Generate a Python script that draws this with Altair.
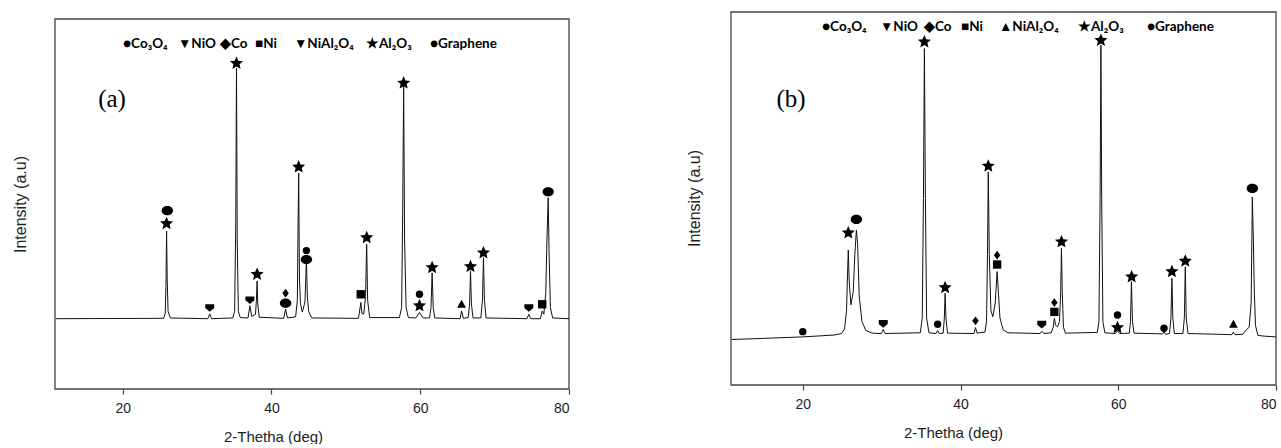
import altair as alt
import pandas as pd

X_MIN, X_MAX = 10.9, 80.0

# ---------------- panel (a): XRD trace (2-theta, relative intensity) ----------------
a_x = [11.0, 25.5, 25.72, 25.82, 25.9, 25.98, 26.1, 26.4,
       31.45, 31.7, 31.95,
       34.8, 35.05, 35.2, 35.3, 35.4, 35.55, 35.8,
       36.85, 37.1, 37.35, 37.85, 37.98, 38.07, 38.16, 38.35,
       41.65, 41.9, 42.15,
       43.25, 43.48, 43.58, 43.66, 43.76, 43.9, 44.15, 44.5, 44.62, 44.7, 44.82, 45.0, 45.4,
       51.7, 51.92, 52.03, 52.15, 52.4, 52.65, 52.8, 52.93, 53.2,
       57.2, 57.5, 57.65, 57.77, 57.9, 58.1, 58.4,
       59.4, 59.9, 60.4,
       61.25, 61.45, 61.6, 61.75, 61.95,
       65.35, 65.56, 65.8,
       66.45, 66.64, 66.76, 66.88, 67.1,
       68.15, 68.37, 68.5, 68.63, 68.85,
       74.35, 74.6, 74.85,
       76.15, 76.4, 76.62, 76.88, 77.03, 77.2, 77.33, 77.5, 77.8, 80.0]
a_y = [19.0, 19.1, 20.5, 28.0, 42.7, 30.0, 21.0, 19.2,
       19.0, 20.3, 19.0,
       19.2, 21.0, 45.0, 86.7, 40.0, 21.0, 19.3,
       19.2, 22.5, 19.6, 20.2, 24.0, 29.2, 23.0, 19.4,
       19.1, 21.6, 19.2,
       19.5, 24.0, 45.0, 58.4, 30.0, 23.0, 20.8, 23.5, 30.0, 35.5, 25.0, 21.0, 19.2,
       19.1, 22.0, 23.4, 20.5, 20.2, 25.0, 39.1, 24.0, 19.3,
       19.3, 22.0, 50.0, 81.8, 40.0, 22.0, 19.3,
       19.2, 20.7, 19.2,
       19.2, 22.0, 31.4, 22.0, 19.2,
       19.0, 21.1, 19.1,
       19.3, 23.0, 31.9, 23.0, 19.2,
       19.2, 24.0, 35.5, 24.0, 19.2,
       19.0, 20.2, 19.0,
       19.0, 21.1, 20.2, 26.0, 40.0, 51.7, 36.0, 22.0, 19.2, 19.0]

# phase markers of panel (a)
a_mx = [25.9, 26.0, 31.7, 35.3, 37.1, 38.07, 41.9, 41.9, 43.66, 44.7, 44.7, 52.0, 52.8,
        57.77, 59.9, 59.9, 61.6, 65.56, 66.76, 68.5, 74.6, 76.4, 77.2]
a_my = [44.7, 48.2, 22.0, 88.0, 24.1, 31.0, 23.2, 25.9, 60.0, 35.0, 37.4, 25.6, 40.9,
        82.7, 22.5, 25.6, 32.8, 22.9, 33.1, 36.8, 22.0, 22.9, 53.3]
a_mk = ["Al2O3", "Graphene", "NiO", "Al2O3", "NiO", "Al2O3", "Graphene", "Co", "Al2O3", "Graphene", "Co3O4",
        "Ni", "Al2O3", "Al2O3", "Al2O3", "Co3O4", "Al2O3", "NiAl2O4", "Al2O3", "Al2O3", "NiO", "Ni", "Graphene"]

# ---------------- panel (b) ----------------
b_x = [11.0, 15.0, 20.0, 24.0, 24.9, 25.3, 25.55, 25.68, 25.77, 25.88, 26.1, 26.4, 26.6, 26.8, 26.95, 27.15, 27.5, 28.0, 28.8,
       29.95, 30.2, 30.45,
       34.9, 35.15, 35.3, 35.42, 35.55, 35.7, 36.0,
       36.9, 37.1, 37.3, 37.8, 37.95, 38.05, 38.15, 38.35,
       41.7, 41.9, 42.1,
       43.1, 43.3, 43.42, 43.52, 43.65, 43.85, 44.1, 44.4, 44.64, 44.8, 45.0, 45.4, 46.0,
       50.1, 50.32, 50.55,
       51.5, 51.75, 51.9, 52.05, 52.3, 52.55, 52.7, 52.8, 52.9, 53.05, 53.3,
       57.35, 57.55, 57.7, 57.8, 57.9, 58.05, 58.3,
       59.6, 59.9, 60.2,
       61.4, 61.55, 61.67, 61.8, 62.0,
       65.6, 65.8, 66.0,
       66.5, 66.68, 66.8, 66.92, 67.1,
       68.2, 68.38, 68.5, 68.62, 68.85,
       74.4, 74.6, 74.8,
       75.8, 76.2, 76.6, 76.85, 77.0, 77.12, 77.25, 77.4, 77.7, 78.5, 80.0]
b_y = [12.2, 12.5, 12.9, 13.4, 13.8, 15.0, 20.0, 30.0, 36.2, 28.0, 21.5, 25.0, 35.0, 41.5, 38.0, 24.0, 17.0, 14.6, 13.9,
       13.8, 14.9, 13.8,
       14.0, 18.0, 50.0, 90.2, 50.0, 18.0, 14.0,
       13.8, 14.6, 13.8, 13.9, 18.0, 24.6, 18.0, 13.9,
       13.8, 15.4, 13.9,
       14.2, 17.0, 35.0, 57.1, 35.0, 20.0, 18.3, 22.0, 30.4, 25.0, 18.0, 14.8, 14.0,
       13.8, 14.4, 13.8,
       14.0, 15.5, 17.9, 16.0, 15.6, 17.0, 25.0, 36.6, 25.0, 15.5, 13.9,
       14.1, 17.0, 50.0, 91.1, 50.0, 17.0, 14.0,
       13.8, 14.4, 13.8,
       13.9, 17.0, 27.7, 17.0, 13.9,
       13.7, 14.3, 13.6,
       13.8, 18.0, 28.6, 18.0, 13.8,
       13.8, 18.0, 31.7, 18.0, 13.8,
       13.5, 14.2, 13.5,
       13.6, 14.7, 15.5, 22.0, 50.4, 40.0, 25.0, 16.0, 13.3, 13.1, 12.9]

b_mx = [20.0, 25.77, 26.8, 30.2, 35.42, 37.1, 38.05, 41.9, 43.52, 44.64, 44.64, 50.3, 51.9, 51.9, 52.8,
        57.8, 59.9, 59.9, 61.7, 65.8, 66.8, 68.5, 74.6, 77.0]
b_my = [14.3, 40.8, 44.4, 16.5, 92.0, 16.3, 26.1, 17.2, 58.7, 32.3, 34.8, 16.3, 19.6, 22.1, 38.4,
        92.4, 15.4, 18.75, 29.0, 15.2, 30.4, 33.2, 16.3, 52.7]
b_mk = ["Co3O4", "Al2O3", "Graphene", "NiO", "Al2O3", "Co3O4", "Al2O3", "Co", "Al2O3", "Ni", "Co", "NiO", "Ni", "Co",
        "Al2O3", "Al2O3", "Al2O3", "Co3O4", "Al2O3", "Co3O4", "Al2O3", "Al2O3", "NiAl2O4", "Graphene"]

# in-plot legend entries
legend_a = ["●Co₃O₄", "▼NiO", "◆Co", "■Ni", "▼NiAl₂O₄", "★Al₂O₃", "●Graphene"]
legend_b = ["●Co₃O₄", "▼NiO", "◆Co", "■Ni", "▲NiAl₂O₄", "★Al₂O₃", "●Graphene"]

# ---------------- layout / style ----------------
LEG_A_PX = [68, 123, 165, 200, 239, 311, 375]
LEG_B_PX = [91, 149, 193, 230, 268, 347, 416]

KINDS = ["Co3O4", "NiO", "Co", "Ni", "NiAl2O4", "Al2O3", "Graphene"]
PATHS = [
    "circle",
    "M-1,-0.75 L1,-0.75 L1,0.1 L0,0.95 L-1,0.1 Z",
    "M0,-1 L0.75,0 L0,1 L-0.75,0 Z",
    "square",
    "M0,-1 L1,0.8 L-1,0.8 Z",
    "M0,-1 L0.27,-0.37 L0.951,-0.309 L0.44,0.14 L0.588,0.809 L0,0.46 "
    "L-0.588,0.809 L-0.44,0.14 L-0.951,-0.309 L-0.27,-0.37 Z",
    "M-1,0 A1,0.8 0 1,1 1,0 A1,0.8 0 1,1 -1,0 Z",
]
SIZES = [55, 80, 75, 70, 80, 190, 130]


def panel(tx, ty, mx, my, mk, leg_items, leg_px, tag, w, h, ytop, ytp, tty, txx, leg_y, tag_x, tag_y):
    xs = alt.Scale(domain=[X_MIN, X_MAX], nice=False, zero=False)
    ys = alt.Scale(domain=[0, ytop], nice=False, zero=False)
    xax = alt.Axis(values=[20, 40, 60, 80], title="2-Thetha (deg)", grid=False, domain=False,
                   tickSize=5, tickColor="#444", tickWidth=1.2, labelPadding=7, titlePadding=14,
                   titleX=txx)
    yax = alt.Axis(title="Intensity (a.u)", labels=False, ticks=False, domain=False, grid=False,
                   titlePadding=ytp, titleY=tty)
    frame = alt.Chart(pd.DataFrame({"x": [X_MIN], "x2": [X_MAX], "y": [0], "y2": [100]})).mark_rect(
        fillOpacity=0, stroke="#444", strokeWidth=1.3
    ).encode(x=alt.X("x:Q", scale=xs, axis=xax), x2="x2", y=alt.Y("y:Q", scale=ys, axis=yax), y2="y2")
    trace = alt.Chart(pd.DataFrame({"x": tx, "y": ty, "i": list(range(len(tx)))})).mark_line(
        color="#111", strokeWidth=1
    ).encode(x=alt.X("x:Q", scale=xs), y=alt.Y("y:Q", scale=ys), order="i:Q")
    marks = alt.Chart(pd.DataFrame({"x": mx, "y": my, "k": mk})).mark_point(
        filled=True, color="black", opacity=1, strokeWidth=0
    ).encode(
        x=alt.X("x:Q", scale=xs), y=alt.Y("y:Q", scale=ys),
        shape=alt.Shape("k:N", scale=alt.Scale(domain=KINDS, range=PATHS), legend=None),
        size=alt.Size("k:N", scale=alt.Scale(type="ordinal", domain=KINDS, range=SIZES), legend=None),
    )
    leg = alt.Chart(pd.DataFrame({"t": leg_items, "px": leg_px})).mark_text(
        align="left", baseline="middle", font="Lato", fontWeight="bold", fontSize=13.5, color="black"
    ).encode(x=alt.X("px:Q", scale=None), y=alt.value(leg_y), text="t:N")
    lab = alt.Chart(pd.DataFrame({"t": [tag]})).mark_text(
        align="center", baseline="middle", font="Liberation Serif", fontSize=25, color="black"
    ).encode(x=alt.value(tag_x), y=alt.value(tag_y), text="t:N")
    return alt.layer(frame, trace, marks, leg, lab).properties(width=w, height=h)


pa = panel(a_x, a_y, a_mx, a_my, a_mk, legend_a, LEG_A_PX, "(a)", 514, 377, 100 * 377 / 370,
           27, 192, 218, 32, 57, 87)
pb = panel(b_x, b_y, b_mx, b_my, b_mk, legend_b, LEG_B_PX, "(b)", 545, 373, 100,
           29, 186, 222, 15, 60, 87)

chart = alt.hconcat(pa, pb, spacing=115).properties(
    padding={"left": 12, "top": 11, "right": 0, "bottom": 0}
).configure_view(stroke=None).configure_axis(
    labelFont="Liberation Sans", labelFontSize=14, labelColor="#222",
    titleFont="Liberation Sans", titleFontWeight="normal", titleColor="#222",
).configure_axisX(titleFontSize=15).configure_axisY(titleFontSize=16)

chart.save("out.html", embed_options={"renderer": "svg", "actions": False})
